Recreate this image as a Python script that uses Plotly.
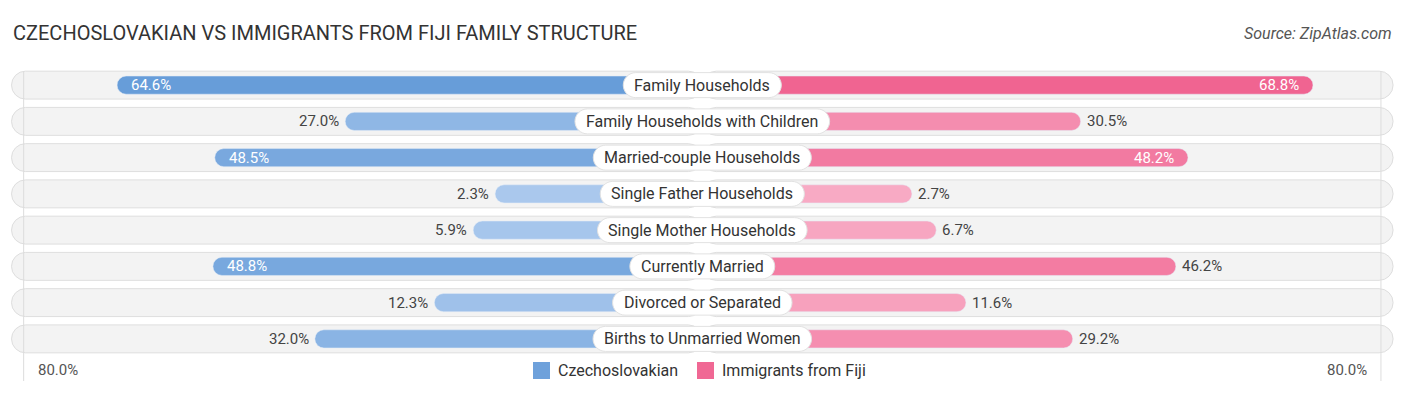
import plotly.graph_objects as go

# ---------------- data ----------------
categories = [
    "Family Households",
    "Family Households with Children",
    "Married-couple Households",
    "Single Father Households",
    "Single Mother Households",
    "Currently Married",
    "Divorced or Separated",
    "Births to Unmarried Women",
]
czech = [64.6, 27.0, 48.5, 2.3, 5.9, 48.8, 12.3, 32.0]
fiji = [68.8, 30.5, 48.2, 2.7, 6.7, 46.2, 11.6, 29.2]
series_names = ["Czechoslovakian", "Immigrants from Fiji"]
axis_max = 80.0
axis_label = "80.0%"
title = "CZECHOSLOVAKIAN VS IMMIGRANTS FROM FIJI FAMILY STRUCTURE"
source = "Source: ZipAtlas.com"

# ---------------- styling ----------------
OFFSET = 31.86          # half-gap reserved for the centre label (axis units)
BG_PAD = 2.0
FONT = "Roboto"
W, H = 1406, 395
T, B = 67, 38
PLOT_H = H - T - B
BLUE_DARK, BLUE_LIGHT = (99, 154, 216), (172, 202, 238)
PINK_DARK, PINK_LIGHT = (240, 100, 145), (248, 173, 198)
INSIDE_MIN = 47.0

vmax = max(max(czech), max(fiji))


def mix(c_light, c_dark, t):
    return "rgb(%d,%d,%d)" % tuple(round(l + (d - l) * t) for l, d in zip(c_light, c_dark))


def px_x(px):
    return px / W


def px_y(py):
    return (H - B - py) / PLOT_H


ROBOTO = {
    'A': .652, 'B': .622, 'C': .652, 'D': .656, 'E': .568, 'F': .553, 'G': .682, 'H': .713,
    'I': .272, 'J': .552, 'K': .627, 'L': .538, 'M': .873, 'N': .713, 'O': .688, 'P': .631,
    'Q': .688, 'R': .616, 'S': .593, 'T': .596, 'U': .649, 'V': .636, 'W': .887, 'X': .627,
    'Y': .601, 'Z': .599, 'a': .544, 'b': .561, 'c': .523, 'd': .564, 'e': .529, 'f': .347,
    'g': .561, 'h': .551, 'i': .243, 'j': .239, 'k': .507, 'l': .243, 'm': .876, 'n': .552,
    'o': .570, 'p': .561, 'q': .568, 'r': .338, 's': .516, 't': .327, 'u': .551, 'v': .484,
    'w': .751, 'x': .496, 'y': .473, 'z': .496, ' ': .248, '-': .276,
}


def text_w(s, size):
    return sum(ROBOTO.get(ch, .55) for ch in s) * size


n = len(categories)
ys = list(range(n))
bg_ext = axis_max + OFFSET + BG_PAD

fig = go.Figure()

# background pills (two halves meeting at the centre)
for sign in (-1, 1):
    fig.add_trace(go.Bar(
        y=ys, x=[sign * bg_ext] * n, base=0, orientation="h", width=0.77,
        marker=dict(color="#f3f3f3", line=dict(color="#dedede", width=1), cornerradius=14),
        showlegend=False, hoverinfo="skip",
    ))

# data bars
left_colors = [mix(BLUE_LIGHT, BLUE_DARK, v / vmax) for v in czech]
right_colors = [mix(PINK_LIGHT, PINK_DARK, v / vmax) for v in fiji]
fig.add_trace(go.Bar(
    y=ys, x=[-(OFFSET + v) for v in czech], base=0, orientation="h", width=0.5,
    marker=dict(color=left_colors, cornerradius=9), showlegend=False, name=series_names[0],
))
fig.add_trace(go.Bar(
    y=ys, x=[OFFSET + v for v in fiji], base=0, orientation="h", width=0.5,
    marker=dict(color=right_colors, cornerradius=9), showlegend=False, name=series_names[1],
))

annotations = []
shapes = []

# centre label pills
LABEL_SIZE = 16
k = 0.5523
for i, cat in enumerate(categories):
    hw = text_w(cat, LABEL_SIZE) / 2 + 11
    r = 12.5
    a = hw - r
    path = (
        f"M {-a},{-r} L {a},{-r} "
        f"C {a + k * r},{-r} {hw},{-k * r} {hw},0 "
        f"C {hw},{k * r} {a + k * r},{r} {a},{r} "
        f"L {-a},{r} "
        f"C {-a - k * r},{r} {-hw},{k * r} {-hw},0 "
        f"C {-hw},{-k * r} {-a - k * r},{-r} {-a},{-r} Z"
    )
    shapes.append(dict(
        type="path", xref="x", yref="y", xsizemode="pixel", ysizemode="pixel",
        xanchor=0, yanchor=i, path=path, fillcolor="white",
        line=dict(color="#e2e2e2", width=1), layer="above",
    ))
    annotations.append(dict(
        x=0, y=i, xref="x", yref="y", text=cat, showarrow=False,
        font=dict(family=FONT, size=LABEL_SIZE, color="#333333"),
        xanchor="center", yanchor="middle",
    ))

# value labels
VAL_SIZE = 15
for i, v in enumerate(czech):
    inside = v >= INSIDE_MIN
    annotations.append(dict(
        x=-(OFFSET + v), y=i, xref="x", yref="y", text=f"{v:.1f}%", showarrow=False,
        font=dict(family=FONT, size=VAL_SIZE, color="white" if inside else "#444444"),
        xanchor="left" if inside else "right", xshift=12 if inside else -4, yanchor="middle",
    ))
for i, v in enumerate(fiji):
    inside = v >= INSIDE_MIN
    annotations.append(dict(
        x=OFFSET + v, y=i, xref="x", yref="y", text=f"{v:.1f}%", showarrow=False,
        font=dict(family=FONT, size=VAL_SIZE, color="white" if inside else "#444444"),
        xanchor="right" if inside else "left", xshift=-12 if inside else 4, yanchor="middle",
    ))

# axis end labels and faint gridlines
for sign in (-1, 1):
    xpos = sign * (OFFSET + axis_max)
    shapes.append(dict(
        type="line", xref="x", yref="paper", x0=xpos, x1=xpos, y0=px_y(71), y1=px_y(381),
        line=dict(color="#dddddd", width=1), layer="above",
    ))
    annotations.append(dict(
        x=xpos, y=px_y(370), xref="x", yref="paper", text=axis_label, showarrow=False,
        font=dict(family=FONT, size=15, color="#555555"),
        xanchor="left" if sign < 0 else "right", xshift=12 * -sign, yanchor="middle",
    ))

# manual legend
legend_cols = [mix(BLUE_LIGHT, BLUE_DARK, 0.85), mix(PINK_LIGHT, PINK_DARK, 0.95)]
legend_x = [533, 697]
for name, col, lx in zip(series_names, legend_cols, legend_x):
    shapes.append(dict(
        type="rect", xref="paper", yref="paper",
        x0=px_x(lx), x1=px_x(lx + 17), y0=px_y(362), y1=px_y(379),
        fillcolor=col, line=dict(width=0), layer="above",
    ))
    annotations.append(dict(
        x=px_x(lx + 23), y=px_y(370.5), xref="paper", yref="paper", text=name, showarrow=False,
        font=dict(family=FONT, size=16, color="#333333"), xanchor="left", yanchor="middle",
    ))

# title and source
annotations.append(dict(
    x=px_x(11), y=px_y(33), xref="paper", yref="paper", text=title, showarrow=False,
    font=dict(family=FONT, size=20, color="#333333"), xanchor="left", yanchor="middle",
))
annotations.append(dict(
    x=px_x(W - 12), y=px_y(33), xref="paper", yref="paper", text=f"<i>{source}</i>", showarrow=False,
    font=dict(family=FONT, size=16, color="#555555"), xanchor="right", yanchor="middle",
))

x_left = -702.3 / 6.067
x_right = (W - 702.3) / 6.067

fig.update_layout(
    width=W, height=H,
    margin=dict(l=0, r=0, t=T, b=B, autoexpand=False),
    barmode="overlay",
    plot_bgcolor="white", paper_bgcolor="white",
    xaxis=dict(range=[x_left, x_right], visible=False, fixedrange=True),
    yaxis=dict(range=[n - 0.5, -0.5], visible=False, fixedrange=True),
    showlegend=False,
    annotations=annotations,
    shapes=shapes,
    font=dict(family=FONT),
)

fig.write_html(
    "out.html",
    config={"displayModeBar": False},
    post_script="document.body.style.margin='0';",
)
